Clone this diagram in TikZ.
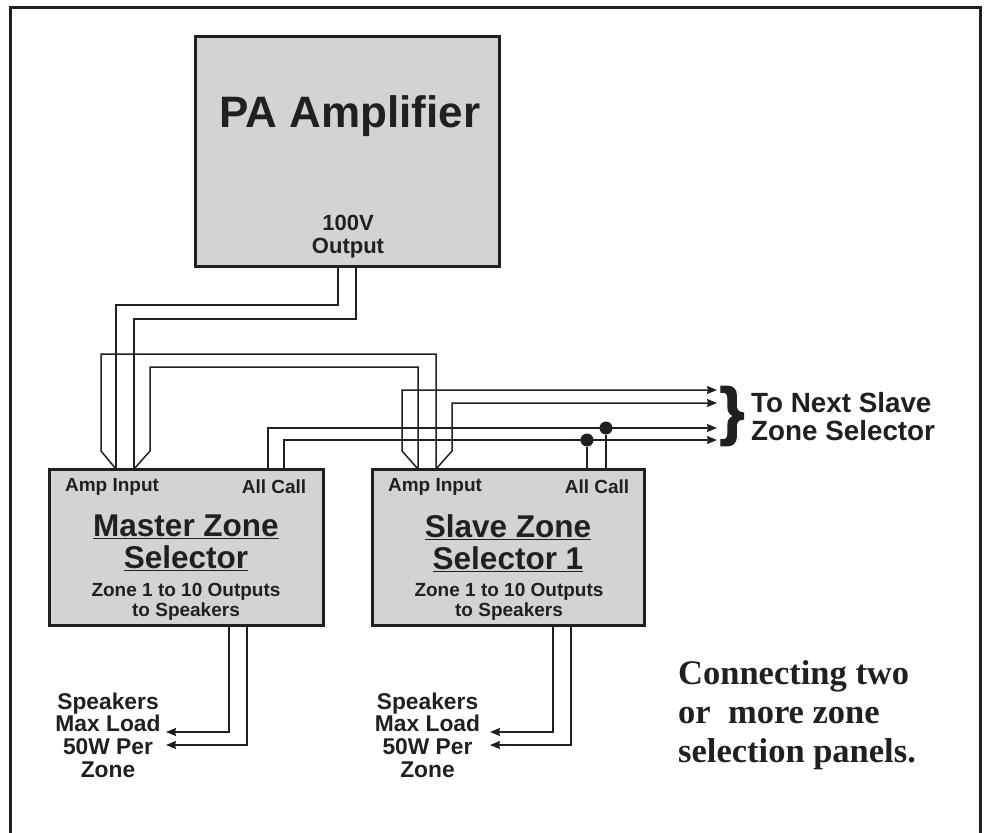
\documentclass[tikz,border=0pt]{standalone}
\usepackage{fontspec}
\setmainfont{Liberation Sans}
\newfontfamily\captionfont{Liberation Serif}
\newfontfamily\bracefont[FakeBold=2]{Liberation Sans Bold}
\usetikzlibrary{arrows.meta, positioning}
\definecolor{panelgray}{HTML}{D1D3D4}
\definecolor{inkblack}{HTML}{231F20}

\begin{document}
\begin{tikzpicture}[x=1pt, y=-1pt, color=inkblack,
    panel/.style={draw, fill=panelgray, line width=3pt, minimum width=#1, inner sep=0pt},
    wire/.style={line width=1.5pt, line join=miter},
    feed/.style={wire, -{Stealth[length=10pt, width=8pt, inset=1pt]}},
    junction/.style={circle, fill, inner sep=0pt, minimum size=13pt},
    lbl/.style={font=\bfseries\fontsize{19}{22}\selectfont, inner sep=0pt, align=center},
    spk/.style={font=\bfseries\fontsize{22.8}{22.7}\selectfont, inner sep=0pt, align=center},
    zones/.style={font=\bfseries\fontsize{19}{19.5}\selectfont, inner sep=0pt, align=center},
    selname/.style={font=\bfseries\fontsize{31.5}{31.5}\selectfont, inner sep=0pt, align=center}]
    \useasboundingbox (0,0) rectangle (986,833);

    % Outer frame
    \draw[line width=3pt] (10,833) -- (10,7) -- (980.5,7) -- (980.5,833);

    % Panels
    \node (amp) at (347,151) [panel=304pt, minimum height=230pt] {};
    \node (master) at (186,547.5) [panel=274pt, minimum height=156pt] {};
    \node (slave) at (508,547.5) [panel=272pt, minimum height=156pt] {};

    % Panel texts
    \node (amptitle) at (350,116) [font=\bfseries\fontsize{44}{50}\selectfont, inner sep=0pt] {PA Amplifier};
    \node (ampout) at (348,237) [font=\bfseries\fontsize{22}{23}\selectfont, inner sep=0pt, align=center] {100V\\Output};
    \node (masteramp) at (112,487) [lbl] {Amp Input};
    \node (mastercall) at (274,487) [lbl] {All Call};
    \node (mastername) at (186,543) [selname] {\underline{Master Zone}\\\underline{Selector}};
    \node (masterzones) at (186,602) [zones] {Zone 1 to 10 Outputs\\to Speakers};
    \node (slaveamp) at (435,487) [lbl] {Amp Input};
    \node (slavecall) at (597,487) [lbl] {All Call};
    \node (slavename) at (508,543) [selname] {\underline{Slave Zone}\\\underline{Selector 1}};
    \node (slavezones) at (509,602) [zones] {Zone 1 to 10 Outputs\\to Speakers};

    % Outside labels
    \node (masterspk) at (108,735) [spk] {Speakers\\Max Load\\50W Per\\Zone};
    \node (slavespk) at (427.5,735) [spk] {Speakers\\Max Load\\50W Per\\Zone};
    \node (nextbrace) at (732,416) [font=\bracefont\fontsize{64}{64}\selectfont, inner sep=0pt] {\}};
    \node (nextslave) at (751,416.5) [anchor=west, font=\bfseries\fontsize{27.8}{28}\selectfont, inner sep=0pt, align=left] {To Next Slave\\Zone Selector};
    \node (note) at (678,715) [anchor=west, font=\captionfont\bfseries\fontsize{34.5}{39}\selectfont, inner sep=0pt, align=left] {Connecting two\\or\ \ more zone\\selection panels.};

    % Free ends of the wires
    \coordinate (nexta) at (717,390);
    \coordinate (nextb) at (717,403);
    \coordinate (nextc) at (717,428);
    \coordinate (nextd) at (717,440);

    % Amplifier output to master
    \draw[wire] (338,266) -- (338,305) -- (116,305) -- (116,469);
    \draw[wire] (356,266) -- (356,319) -- (134,319) -- (134,469);

    % Master to slave amp input
    \draw[wire] (116,469) -- (101,451) -- (101,354) -- (436,354) -- (436,469);
    \draw[wire] (134,469) -- (150,451) -- (150,367) -- (418,367) -- (418,469);

    % Slave amp input to next slave
    \draw[feed] (418,469) -- (402,451) -- (402,390) -- (nexta);
    \draw[feed] (436,469) -- (452,451) -- (452,403) -- (nextb);

    % All call
    \draw[feed] (268,469) -- (268,428) -- (nextc);
    \draw[feed] (284,469) -- (284,440) -- (nextd);
    \node (dotd) at (587,440) [junction] {};
    \node (dotc) at (606,428) [junction] {};
    \draw[wire] (587,469) -- (dotd);
    \draw[wire] (606,469) -- (dotc);

    % Speaker outputs
    \coordinate (masterspka) at (166,732);
    \coordinate (masterspkb) at (166,745);
    \coordinate (slavespka) at (490,732);
    \coordinate (slavespkb) at (490,745);
    \draw[feed] (229,626) -- (229,732) -- (masterspka);
    \draw[feed] (247,626) -- (247,745) -- (masterspkb);
    \draw[feed] (553,626) -- (553,732) -- (slavespka);
    \draw[feed] (571,626) -- (571,745) -- (slavespkb);
\end{tikzpicture}
\end{document}
